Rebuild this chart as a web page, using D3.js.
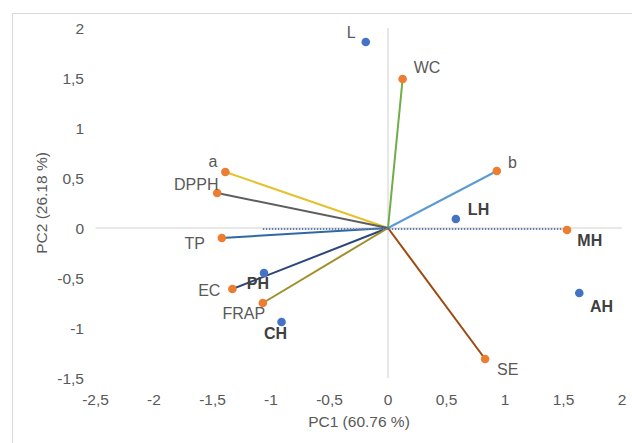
<!DOCTYPE html>
<html>
<head>
<meta charset="utf-8">
<script src="https://cdn.jsdelivr.net/npm/d3@7"></script>
<style>
  html, body { margin: 0; padding: 0; background: #ffffff; }
  svg { display: block; font-family: "Liberation Sans", Arial, sans-serif; }
</style>
</head>
<body>
<svg id="chart" width="632" height="443"></svg>
<script>
// PCA biplot: variable loadings (orange, with vectors) and sample scores (blue)
const loadingNames = ["WC", "b", "a", "DPPH", "TP", "EC", "FRAP", "SE", "MH"];
const loadingPC1   = [0.125, 0.93, -1.39, -1.46, -1.42, -1.33, -1.07, 0.83, 1.53];
const loadingPC2   = [1.49, 0.57, 0.56, 0.35, -0.10, -0.61, -0.75, -1.31, -0.02];

const scoreNames = ["L", "LH", "AH", "PH", "CH"];
const scorePC1   = [-0.19, 0.58, 1.635, -1.06, -0.91];
const scorePC2   = [1.86, 0.09, -0.65, -0.45, -0.94];

// dotted reference line along PC1
const refPC1 = [-1.07, 1.57];
const refPC2 = [-0.01, -0.01];

const xTicks = [-2.5, -2, -1.5, -1, -0.5, 0, 0.5, 1, 1.5, 2];
const yTicks = [-1.5, -1, -0.5, 0, 0.5, 1, 1.5, 2];

const xTitle = "PC1 (60.76 %)";
const yTitle = "PC2 (26.18 %)";

// ---- styling ----
const vectorColor = {
  WC: "#70ad47", b: "#5b9bd5", a: "#e6c12e", DPPH: "#5e5e5e",
  TP: "#2e69a3", EC: "#2b477a", FRAP: "#a18f2a", SE: "#9e480e", MH: null
};
const boldLabels = new Set(["LH", "MH", "AH", "PH", "CH"]);
// label placement relative to its marker: [dx, dy, anchor]
const labelPlace = {
  L: [-10, -4.5, "end"], WC: [11, -6.3, "start"], b: [11.3, -3.3, "start"],
  a: [-8, -5.3, "end"], DPPH: [1.3, -3.3, "end"], TP: [-17, 10.6, "end"],
  EC: [-12, 7.3, "end"], PH: [-6, 16.3, "middle"], FRAP: [2.3, 15.7, "end"],
  CH: [-6, 16.5, "middle"], LH: [12, -3.7, "start"], MH: [10.3, 16, "start"],
  AH: [10.7, 19.3, "start"], SE: [12, 15.7, "start"]
};

const svg = d3.select("#chart");

// chart area border
svg.append("rect")
  .attr("x", 12.5).attr("y", 13.5)
  .attr("width", 640).attr("height", 440)
  .attr("fill", "none").attr("stroke", "#d9d9d9").attr("stroke-width", 1);

const x = d3.scaleLinear().domain([-2.5, 2]).range([95.5, 622]);
const y = d3.scaleLinear().domain([-1.5, 2]).range([378, 28]);

// axis lines through the origin
svg.append("line")
  .attr("x1", x(-2.5)).attr("x2", x(2)).attr("y1", y(0)).attr("y2", y(0))
  .attr("stroke", "#d0d0d0").attr("stroke-width", 1);
svg.append("line")
  .attr("x1", x(0)).attr("x2", x(0)).attr("y1", y(2)).attr("y2", y(-1.5))
  .attr("stroke", "#d0d0d0").attr("stroke-width", 1);

// tick labels
const fmt = v => String(v).replace(".", ",");
svg.append("g").selectAll("text").data(xTicks).join("text")
  .attr("x", d => x(d)).attr("y", 405)
  .attr("text-anchor", "middle")
  .attr("font-size", 15.5).attr("fill", "#595959")
  .text(fmt);
svg.append("g").selectAll("text").data(yTicks).join("text")
  .attr("x", 84).attr("y", d => y(d) + 5.6)
  .attr("text-anchor", "end")
  .attr("font-size", 15.5).attr("fill", "#595959")
  .text(fmt);

// axis titles
svg.append("text")
  .attr("x", 359).attr("y", 426.5)
  .attr("text-anchor", "middle").attr("font-size", 15.5).attr("fill", "#595959")
  .text(xTitle);
svg.append("text")
  .attr("transform", "translate(47,203) rotate(-90)")
  .attr("text-anchor", "middle").attr("font-size", 15.5).attr("fill", "#595959")
  .text(yTitle);

const loadings = loadingNames.map((n, i) => ({ name: n, pc1: loadingPC1[i], pc2: loadingPC2[i] }));
const scores = scoreNames.map((n, i) => ({ name: n, pc1: scorePC1[i], pc2: scorePC2[i] }));

// loading vectors from the origin
svg.append("g").selectAll("line")
  .data(loadings.filter(d => vectorColor[d.name]))
  .join("line")
  .attr("x1", x(0)).attr("y1", y(0))
  .attr("x2", d => x(d.pc1)).attr("y2", d => y(d.pc2))
  .attr("stroke", d => vectorColor[d.name]).attr("stroke-width", 2);

// dotted reference line
svg.append("line")
  .attr("x1", x(refPC1[0])).attr("y1", y(refPC2[0]))
  .attr("x2", x(refPC1[1])).attr("y2", y(refPC2[1]))
  .attr("stroke", "#6a80a8").attr("stroke-width", 2)
  .attr("stroke-dasharray", "1.5,1.5");

// markers
svg.append("g").selectAll("circle").data(scores).join("circle")
  .attr("cx", d => x(d.pc1)).attr("cy", d => y(d.pc2)).attr("r", 4.3)
  .attr("fill", "#4472c4");
svg.append("g").selectAll("circle").data(loadings).join("circle")
  .attr("cx", d => x(d.pc1)).attr("cy", d => y(d.pc2)).attr("r", 4.3)
  .attr("fill", "#ed7d31");

// point labels
svg.append("g").selectAll("text").data(loadings.concat(scores)).join("text")
  .attr("x", d => x(d.pc1) + labelPlace[d.name][0])
  .attr("y", d => y(d.pc2) + labelPlace[d.name][1])
  .attr("text-anchor", d => labelPlace[d.name][2])
  .attr("font-size", 16)
  .attr("font-weight", d => boldLabels.has(d.name) ? "bold" : "normal")
  .attr("fill", d => boldLabels.has(d.name) ? "#404040" : "#595959")
  .text(d => d.name);
</script>
</body>
</html>
